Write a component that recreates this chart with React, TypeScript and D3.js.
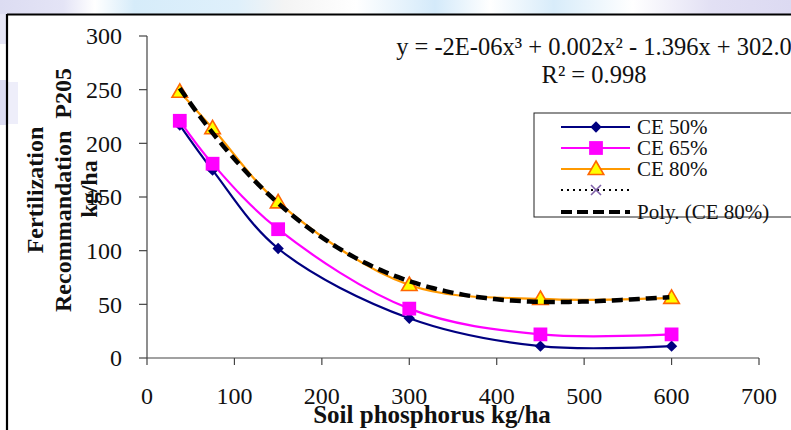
import React from 'react';
import * as d3 from 'd3';

// soil P (kg/ha) and recommended P2O5 (kg/ha) for three CE levels
const soilP = [37.5, 75, 150, 300, 450, 600];
const ce50 = [217, 175, 102, 37, 11, 11];
const ce65 = [221, 181, 120, 46, 22, 22];
const ce80 = [248, 214, 145, 68, 55, 56];

const xTicks = [0, 100, 200, 300, 400, 500, 600, 700];
const yTicks = [0, 50, 100, 150, 200, 250, 300];

const legendLabels = ['CE 50%', 'CE 65%', 'CE 80%', '', 'Poly. (CE 80%)'];

const W = 791;
const H = 430;
const serif = '"Liberation Serif", "Times New Roman", serif';

// least squares polynomial (what the spreadsheet trendline does)
function polyFit(xs: number[], ys: number[], deg: number) {
  const n = deg + 1;
  const s = 100;
  const A: number[][] = Array.from({ length: n }, () => new Array(n + 1).fill(0));
  xs.forEach((x0, k) => {
    const x = x0 / s;
    for (let i = 0; i < n; i++) {
      for (let j = 0; j < n; j++) A[i][j] += Math.pow(x, i + j);
      A[i][n] += ys[k] * Math.pow(x, i);
    }
  });
  for (let c = 0; c < n; c++) {
    let p = c;
    for (let r = c + 1; r < n; r++) if (Math.abs(A[r][c]) > Math.abs(A[p][c])) p = r;
    [A[c], A[p]] = [A[p], A[c]];
    for (let r = 0; r < n; r++) {
      if (r === c) continue;
      const f = A[r][c] / A[c][c];
      for (let k = c; k <= n; k++) A[r][k] -= f * A[c][k];
    }
  }
  const coef = A.map((row, i) => row[n] / row[i]);
  return (x0: number) => coef.reduce((acc, c, i) => acc + c * Math.pow(x0 / s, i), 0);
}

export default function App() {
  const x = d3.scaleLinear().domain([0, 700]).range([147, 759]);
  const y = d3.scaleLinear().domain([0, 300]).range([358, 36]);

  const line = d3
    .line<number>()
    .x((_, i) => x(soilP[i]))
    .y((d) => y(d))
    .curve(d3.curveCatmullRom.alpha(0.5));

  const trend = polyFit(soilP, ce80, 3);
  const tx = d3.range(soilP[0], soilP[soilP.length - 1] + 0.1, 5);
  const trendPath = d3
    .line<number>()
    .x((d) => x(d))
    .y((d) => y(trend(d)))(tx);

  const diamond = d3.symbol(d3.symbolSquare, 64)()!;
  const square = d3.symbol(d3.symbolSquare, 190)()!;
  const triangle = d3.symbol(d3.symbolTriangle, 105)()!;

  const mDiamond = (cx: number, cy: number, k: string) => (
    <path key={k} d={diamond} transform={`translate(${cx},${cy}) rotate(45)`} fill="#000080" />
  );
  const mSquare = (cx: number, cy: number, k: string) => (
    <path key={k} d={square} transform={`translate(${cx},${cy})`} fill="#FF00FF" />
  );
  const mTriangle = (cx: number, cy: number, k: string) => (
    <path
      key={k}
      d={triangle}
      transform={`translate(${cx},${cy + 1})`}
      fill="#FFFF00"
      stroke="#FF6600"
      strokeWidth={1.6}
    />
  );
  const mCross = (cx: number, cy: number, k: string) => (
    <g key={k} stroke="#7F60A8" strokeWidth={1.6}>
      <line x1={cx - 5} y1={cy - 5} x2={cx + 5} y2={cy + 5} />
      <line x1={cx - 5} y1={cy + 5} x2={cx + 5} y2={cy - 5} />
    </g>
  );

  const legendY = [127, 148, 169, 190, 212];
  const lx0 = 561;
  const lx1 = 630;
  const lmx = 596;

  return (
    <svg
      width={W}
      height={H}
      style={{ position: 'absolute', left: 0, top: 0, background: '#fff' }}
      fontFamily={serif}
    >
      <defs>
        <linearGradient id="wm" x1="0" x2="1" y1="0" y2="0">
          <stop offset="0" stopColor="#dcdcf2" />
          <stop offset="0.08" stopColor="#e4e4f6" />
          <stop offset="0.12" stopColor="#ffffff" />
          <stop offset="0.17" stopColor="#d6ecfa" />
          <stop offset="0.3" stopColor="#dff0fb" />
          <stop offset="0.36" stopColor="#f4f4f4" />
          <stop offset="0.45" stopColor="#ffffff" />
          <stop offset="0.55" stopColor="#d4eafa" />
          <stop offset="0.62" stopColor="#ffffff" />
          <stop offset="0.7" stopColor="#d8ecfa" />
          <stop offset="0.8" stopColor="#ffffff" />
          <stop offset="0.9" stopColor="#e2e0f4" />
          <stop offset="1" stopColor="#dcdaf2" />
        </linearGradient>
      </defs>
      <rect x={0} y={0} width={W} height={14} fill="url(#wm)" />
      <rect x={0} y={14} width={6} height={30} fill="#e6e6f6" />
      <rect x={0} y={80} width={6} height={45} fill="#dcdcf2" />
      <rect x={8} y={82} width={10} height={42} fill="#eeeefa" />

      {/* chart frame */}
      <line x1={7} y1={14.5} x2={W} y2={14.5} stroke="#000" strokeWidth={2} />
      <line x1={7} y1={14} x2={7} y2={H} stroke="#000" strokeWidth={2.2} />

      {/* axes */}
      <line x1={x(0)} y1={y(300)} x2={x(0)} y2={y(0)} stroke="#444" strokeWidth={1.2} />
      <line x1={x(0)} y1={y(0)} x2={x(700)} y2={y(0)} stroke="#444" strokeWidth={1.2} />
      {yTicks.map((t) => (
        <g key={'y' + t}>
          <line x1={x(0) - 8} x2={x(0)} y1={y(t)} y2={y(t)} stroke="#444" strokeWidth={1.2} />
          <text x={122} y={y(t)} dy="0.35em" textAnchor="end" fontSize={24} fill="#111">
            {t}
          </text>
        </g>
      ))}
      {xTicks.map((t) => (
        <g key={'x' + t}>
          <line x1={x(t)} x2={x(t)} y1={y(0)} y2={y(0) + 7} stroke="#444" strokeWidth={1.2} />
          <text x={x(t)} y={404} textAnchor="middle" fontSize={24} fill="#111">
            {t}
          </text>
        </g>
      ))}

      {/* axis titles */}
      <text x={432} y={423} textAnchor="middle" fontSize={25} fontWeight="bold" fill="#111">
        Soil phosphorus kg/ha
      </text>
      <g fontSize={24} fontWeight="bold" fill="#111" textAnchor="middle">
        <text transform="translate(43,190) rotate(-90)">Fertilization</text>
        <text transform="translate(71,190) rotate(-90)" style={{ whiteSpace: 'pre' }}>
          {'Recommandation  P205'}
        </text>
        <text transform="translate(97,189) rotate(-90)">kg/ha</text>
      </g>

      {/* series */}
      <path d={line(ce50)!} fill="none" stroke="#000080" strokeWidth={2.2} />
      {ce50.map((v, i) => mDiamond(x(soilP[i]), y(v), 'd' + i))}
      <path d={line(ce65)!} fill="none" stroke="#FF00FF" strokeWidth={2.2} />
      {ce65.map((v, i) => mSquare(x(soilP[i]), y(v), 's' + i))}
      <path d={line(ce80)!} fill="none" stroke="#FF9900" strokeWidth={2.2} />
      {ce80.map((v, i) => mTriangle(x(soilP[i]), y(v), 't' + i))}

      {/* polynomial trendline */}
      <path d={trendPath!} fill="none" stroke="#000" strokeWidth={4.5} strokeDasharray="11 6" />

      {/* equation */}
      <text x={594} y={55} textAnchor="middle" fontSize={24.5} fill="#111">
        y = -2E-06x³ + 0.002x² - 1.396x + 302.0
      </text>
      <text x={594} y={83} textAnchor="middle" fontSize={24.5} fill="#111">
        R² = 0.998
      </text>

      {/* legend */}
      <rect x={534} y={113} width={280} height={104} fill="#fff" stroke="#222" strokeWidth={1} />
      <line x1={lx0} x2={lx1} y1={legendY[0]} y2={legendY[0]} stroke="#000080" strokeWidth={2.2} />
      {mDiamond(lmx, legendY[0], 'ld')}
      <line x1={lx0} x2={lx1} y1={legendY[1]} y2={legendY[1]} stroke="#FF00FF" strokeWidth={2.2} />
      {mSquare(lmx, legendY[1], 'ls')}
      <line x1={lx0} x2={lx1} y1={legendY[2]} y2={legendY[2]} stroke="#FF9900" strokeWidth={2.2} />
      {mTriangle(lmx, legendY[2], 'lt')}
      <line
        x1={lx0}
        x2={lx1}
        y1={legendY[3]}
        y2={legendY[3]}
        stroke="#000"
        strokeWidth={2}
        strokeDasharray="2 4"
      />
      {mCross(lmx, legendY[3], 'lc')}
      <line
        x1={lx0}
        x2={lx1}
        y1={legendY[4]}
        y2={legendY[4]}
        stroke="#000"
        strokeWidth={4}
        strokeDasharray="11 5"
      />
      {legendLabels.map((l, i) => (
        <text key={'lg' + i} x={637} y={legendY[i]} dy="0.35em" fontSize={21} fill="#111">
          {l}
        </text>
      ))}
    </svg>
  );
}
